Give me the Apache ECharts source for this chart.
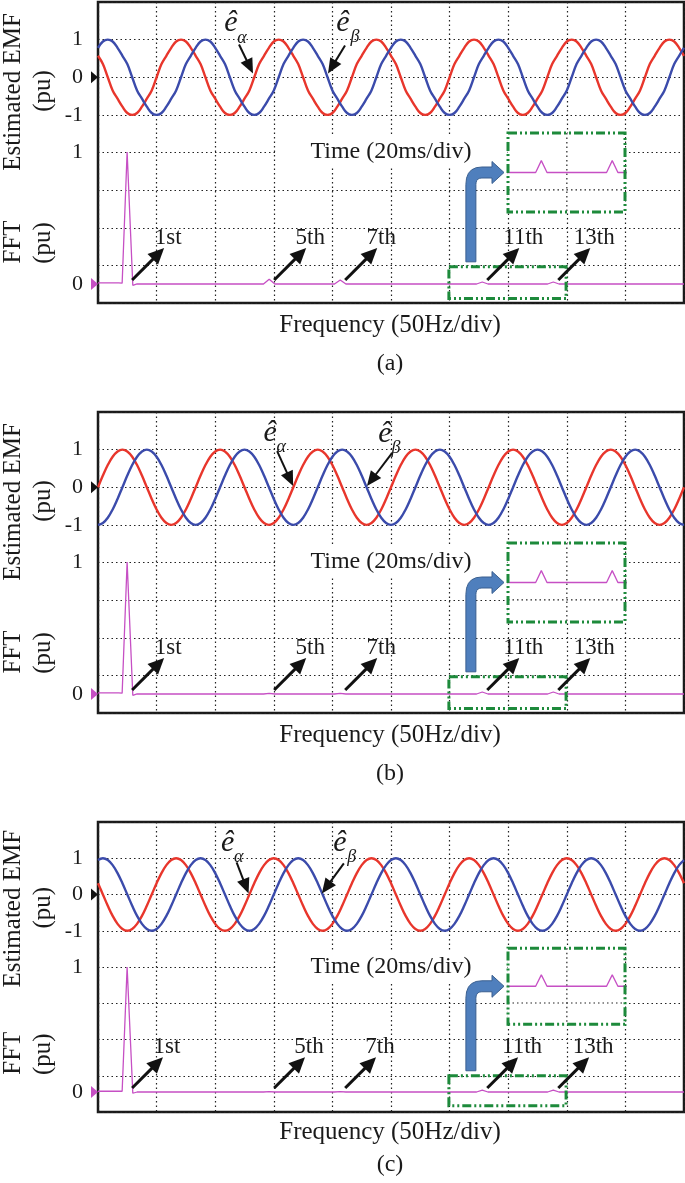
<!DOCTYPE html>
<html>
<head>
<meta charset="utf-8">
<script src="https://cdn.jsdelivr.net/npm/echarts@6/dist/echarts.min.js"></script>
<style>
html,body{margin:0;padding:0;background:#fff;}
#charts{width:685px;height:1183px;}
</style>
</head>
<body>
<div id="charts"></div>
<script>
// scope trace: 12 samples per 20ms division, 10 divisions
var SAMPLE_MS = 20 / 12;

// (a) distorted back-EMF, alpha / beta (pu)
var emfAlphaA = [
  0.57,0.35,0,-0.35,-0.57,-0.78,-0.95,-1,-0.95,-0.78,-0.57,-0.35,0,0.35,0.57,0.78,0.95,1,0.95,0.78,
  0.57,0.35,0,-0.35,-0.57,-0.78,-0.95,-1,-0.95,-0.78,-0.57,-0.35,0,0.35,0.57,0.78,0.95,1,0.95,0.78,
  0.57,0.35,0,-0.35,-0.57,-0.78,-0.95,-1,-0.95,-0.78,-0.57,-0.35,0,0.35,0.57,0.78,0.95,1,0.95,0.78,
  0.57,0.35,0,-0.35,-0.57,-0.78,-0.95,-1,-0.95,-0.78,-0.57,-0.35,0,0.35,0.57,0.78,0.95,1,0.95,0.78,
  0.57,0.35,0,-0.35,-0.57,-0.78,-0.95,-1,-0.95,-0.78,-0.57,-0.35,0,0.35,0.57,0.78,0.95,1,0.95,0.78,
  0.57,0.35,0,-0.35,-0.57,-0.78,-0.95,-1,-0.95,-0.78,-0.57,-0.35,0,0.35,0.57,0.78,0.95,1,0.95,0.78,
  0.57];
var emfBetaA = [
  0.78,0.95,1,0.95,0.78,0.57,0.35,0,-0.35,-0.57,-0.78,-0.95,-1,-0.95,-0.78,-0.57,-0.35,0,0.35,0.57,
  0.78,0.95,1,0.95,0.78,0.57,0.35,0,-0.35,-0.57,-0.78,-0.95,-1,-0.95,-0.78,-0.57,-0.35,0,0.35,0.57,
  0.78,0.95,1,0.95,0.78,0.57,0.35,0,-0.35,-0.57,-0.78,-0.95,-1,-0.95,-0.78,-0.57,-0.35,0,0.35,0.57,
  0.78,0.95,1,0.95,0.78,0.57,0.35,0,-0.35,-0.57,-0.78,-0.95,-1,-0.95,-0.78,-0.57,-0.35,0,0.35,0.57,
  0.78,0.95,1,0.95,0.78,0.57,0.35,0,-0.35,-0.57,-0.78,-0.95,-1,-0.95,-0.78,-0.57,-0.35,0,0.35,0.57,
  0.78,0.95,1,0.95,0.78,0.57,0.35,0,-0.35,-0.57,-0.78,-0.95,-1,-0.95,-0.78,-0.57,-0.35,0,0.35,0.57,
  0.78];

// (b)
var emfAlphaB = [
  0,0.31,0.59,0.81,0.95,1,0.95,0.81,0.59,0.31,0,-0.31,-0.59,-0.81,-0.95,-1,-0.95,-0.81,-0.59,-0.31,
  0,0.31,0.59,0.81,0.95,1,0.95,0.81,0.59,0.31,0,-0.31,-0.59,-0.81,-0.95,-1,-0.95,-0.81,-0.59,-0.31,
  0,0.31,0.59,0.81,0.95,1,0.95,0.81,0.59,0.31,0,-0.31,-0.59,-0.81,-0.95,-1,-0.95,-0.81,-0.59,-0.31,
  0,0.31,0.59,0.81,0.95,1,0.95,0.81,0.59,0.31,0,-0.31,-0.59,-0.81,-0.95,-1,-0.95,-0.81,-0.59,-0.31,
  0,0.31,0.59,0.81,0.95,1,0.95,0.81,0.59,0.31,0,-0.31,-0.59,-0.81,-0.95,-1,-0.95,-0.81,-0.59,-0.31,
  0,0.31,0.59,0.81,0.95,1,0.95,0.81,0.59,0.31,0,-0.31,-0.59,-0.81,-0.95,-1,-0.95,-0.81,-0.59,-0.31,
  0];
var emfBetaB = [
  -1,-0.95,-0.81,-0.59,-0.31,0,0.31,0.59,0.81,0.95,1,0.95,0.81,0.59,0.31,0,-0.31,-0.59,-0.81,-0.95,
  -1,-0.95,-0.81,-0.59,-0.31,0,0.31,0.59,0.81,0.95,1,0.95,0.81,0.59,0.31,0,-0.31,-0.59,-0.81,-0.95,
  -1,-0.95,-0.81,-0.59,-0.31,0,0.31,0.59,0.81,0.95,1,0.95,0.81,0.59,0.31,0,-0.31,-0.59,-0.81,-0.95,
  -1,-0.95,-0.81,-0.59,-0.31,0,0.31,0.59,0.81,0.95,1,0.95,0.81,0.59,0.31,0,-0.31,-0.59,-0.81,-0.95,
  -1,-0.95,-0.81,-0.59,-0.31,0,0.31,0.59,0.81,0.95,1,0.95,0.81,0.59,0.31,0,-0.31,-0.59,-0.81,-0.95,
  -1,-0.95,-0.81,-0.59,-0.31,0,0.31,0.59,0.81,0.95,1,0.95,0.81,0.59,0.31,0,-0.31,-0.59,-0.81,-0.95,
  -1];

// (c)
var emfAlphaC = [
  0.31,0,-0.31,-0.59,-0.81,-0.95,-1,-0.95,-0.81,-0.59,-0.31,0,0.31,0.59,0.81,0.95,1,0.95,0.81,0.59,
  0.31,0,-0.31,-0.59,-0.81,-0.95,-1,-0.95,-0.81,-0.59,-0.31,0,0.31,0.59,0.81,0.95,1,0.95,0.81,0.59,
  0.31,0,-0.31,-0.59,-0.81,-0.95,-1,-0.95,-0.81,-0.59,-0.31,0,0.31,0.59,0.81,0.95,1,0.95,0.81,0.59,
  0.31,0,-0.31,-0.59,-0.81,-0.95,-1,-0.95,-0.81,-0.59,-0.31,0,0.31,0.59,0.81,0.95,1,0.95,0.81,0.59,
  0.31,0,-0.31,-0.59,-0.81,-0.95,-1,-0.95,-0.81,-0.59,-0.31,0,0.31,0.59,0.81,0.95,1,0.95,0.81,0.59,
  0.31,0,-0.31,-0.59,-0.81,-0.95,-1,-0.95,-0.81,-0.59,-0.31,0,0.31,0.59,0.81,0.95,1,0.95,0.81,0.59,
  0.31];
var emfBetaC = [
  0.95,1,0.95,0.81,0.59,0.31,0,-0.31,-0.59,-0.81,-0.95,-1,-0.95,-0.81,-0.59,-0.31,0,0.31,0.59,0.81,
  0.95,1,0.95,0.81,0.59,0.31,0,-0.31,-0.59,-0.81,-0.95,-1,-0.95,-0.81,-0.59,-0.31,0,0.31,0.59,0.81,
  0.95,1,0.95,0.81,0.59,0.31,0,-0.31,-0.59,-0.81,-0.95,-1,-0.95,-0.81,-0.59,-0.31,0,0.31,0.59,0.81,
  0.95,1,0.95,0.81,0.59,0.31,0,-0.31,-0.59,-0.81,-0.95,-1,-0.95,-0.81,-0.59,-0.31,0,0.31,0.59,0.81,
  0.95,1,0.95,0.81,0.59,0.31,0,-0.31,-0.59,-0.81,-0.95,-1,-0.95,-0.81,-0.59,-0.31,0,0.31,0.59,0.81,
  0.95,1,0.95,0.81,0.59,0.31,0,-0.31,-0.59,-0.81,-0.95,-1,-0.95,-0.81,-0.59,-0.31,0,0.31,0.59,0.81,
  0.95];

// FFT spectrum (Hz, pu)
var fftHz   = [9, 38, 43, 50, 58, 64, 242, 250, 258, 342, 350, 358, 542, 550, 558, 642, 650, 658, 834];
var fftMagA = [0.008, 0.008, 0.006, 1, -0.01, 0, 0, 0.036, 0, 0, 0.03, 0, 0, 0.015, 0, 0, 0.015, 0, 0];
var fftMagB = [0.008, 0.008, 0.006, 1, -0.01, 0, 0, 0.004, 0, 0, 0.004, 0, 0, 0.015, 0, 0, 0.015, 0, 0];
var fftMagC = [0.006, 0.006, 0.006, 1, -0.01, 0, 0, 0.003, 0, 0, 0.003, 0, 0, 0.015, 0, 0, 0.015, 0, 0];

var harmonicHz = [50, 250, 350, 550, 650];
var harmonicNames = ['1st', '5th', '7th', '11th', '13th'];
var zoomHz = [503, 668];          // zoomed window of the spectrum
var zoomPu = [-0.11, 0.13];
var insetGridHz = 586;            // grid lines shown inside the inset
var insetGridPu = -0.022;
var sineTicks = [-1, 0, 1];
var fftTicks = [0, 1];

var FONT = "'Liberation Serif','Times New Roman',serif";
var RED = '#e8362c', BLUE = '#3b4bab', MAG = '#c64fc4', GREEN = '#1d8a3b';
var LEFT = 98, WIDTH = 586;

var panels = [
  {cap:'(a)', top:2, height:301, freqY:325, capY:364, fftMin:-0.144, fftMax:2.136,
   alpha:emfAlphaA, beta:emfBetaA, fft:fftMagA,
   aTip:[52.9,0.1], aTail:[-14,-29], aE:[-22,-50], aSub:[-11,-35],
   bTip:[78.5,0.1], bTail:[17,-28], bE:[15,-50], bSub:[27,-36]},
  {cap:'(b)', top:412, height:301, freqY:735, capY:774, fftMin:-0.144, fftMax:2.136,
   alpha:emfAlphaB, beta:emfBetaB, fft:fftMagB,
   aTip:[66.6,0.03], aTail:[-16,-35], aE:[-23,-53], aSub:[-12,-39],
   bTip:[91.8,0.03], bTail:[25,-33], bE:[18,-52], bSub:[29,-38]},
  {cap:'(c)', top:822, height:290, freqY:1132, capY:1165, fftMin:-0.16, fftMax:2.16,
   alpha:emfAlphaC, beta:emfBetaC, fft:fftMagC,
   aTip:[51.4,0.03], aTail:[-12,-31], aE:[-21,-50], aSub:[-10,-36],
   bTip:[76.4,0.03], bTail:[22,-30], bE:[18,-50], bSub:[30,-36]}
];

var dotted = {type:[1.5, 3], color:'#222', width:1.2};

function pairs(xs, ys){
  var out = [];
  for (var i = 0; i < ys.length; i++) out.push([xs[i], ys[i]]);
  return out;
}
var sampleTimes = [];
for (var k = 0; k < emfAlphaA.length; k++) sampleTimes.push(k * SAMPLE_MS);

var charts = echarts.init(document.getElementById('charts'));

var grids = [], xAxes = [], yAxes = [], series = [];
panels.forEach(function(p, i){
  var s = p.height / 301;
  var g = 3 * i;
  grids.push({left:LEFT, width:WIDTH, top:p.top, height:p.height, show:true,
              borderColor:'#1a1a1a', borderWidth:2.5, backgroundColor:'transparent'});
  grids.push({left:LEFT, width:WIDTH, top:p.top, height:p.height});
  grids.push({left:508, width:117, top:p.top + 131 * s, height:79 * s});

  xAxes.push({gridIndex:g, type:'value', min:0, max:200, interval:20,
              axisLine:{show:false}, axisTick:{show:false}, axisLabel:{show:false},
              splitLine:{show:true, lineStyle:dotted}});
  xAxes.push({gridIndex:g+1, type:'value', min:9, max:834, show:false});
  xAxes.push({gridIndex:g+2, type:'value', min:zoomHz[0], max:zoomHz[1], show:false});

  yAxes.push({gridIndex:g, type:'value', min:-6, max:2, interval:1,
              axisLine:{show:false}, axisTick:{show:false},
              splitLine:{show:true, lineStyle:dotted},
              axisLabel:{customValues:sineTicks, margin:15, fontSize:22, fontFamily:FONT, color:'#1a1a1a',
                         formatter:function(v){ return sineTicks.indexOf(v) >= 0 ? String(v) : ''; }}});
  yAxes.push({gridIndex:g+1, type:'value', min:p.fftMin, max:p.fftMax,
              axisLine:{show:false}, axisTick:{show:false}, splitLine:{show:false},
              axisLabel:{customValues:fftTicks, margin:15, fontSize:22, fontFamily:FONT, color:'#1a1a1a',
                         formatter:function(v){ return (v === 0 || v === 1) ? String(v) : ''; }}});
  yAxes.push({gridIndex:g+2, type:'value', min:-0.05, max:0.05, show:false});

  series.push({type:'line', xAxisIndex:g, yAxisIndex:g, data:pairs(sampleTimes, p.alpha),
               smooth:0.4, symbol:'none', lineStyle:{color:RED, width:2.4}, z:2});
  series.push({type:'line', xAxisIndex:g, yAxisIndex:g, data:pairs(sampleTimes, p.beta),
               smooth:0.4, symbol:'none', lineStyle:{color:BLUE, width:2.4}, z:2});
  series.push({type:'line', xAxisIndex:g+1, yAxisIndex:g+1, data:pairs(fftHz, p.fft),
               symbol:'none', lineStyle:{color:MAG, width:1.3}, z:2});
  series.push({type:'line', xAxisIndex:g+2, yAxisIndex:g+2, data:pairs(fftHz, p.fft),
               symbol:'none', lineStyle:{color:MAG, width:1.3}, z:6});
});

charts.setOption({
  animation:false,
  textStyle:{fontFamily:FONT},
  grid:grids, xAxis:xAxes, yAxis:yAxes, series:series
});

function txt(x, y, text, size, opts){
  opts = opts || {};
  var st = {text:text, fontSize:size, fontFamily:FONT, fontStyle:opts.italic ? 'italic' : 'normal',
            fill:'#1a1a1a', textAlign:'center', textVerticalAlign:'middle',
            align:'center', verticalAlign:'middle'};
  if (opts.bg) { st.backgroundColor = opts.bg; st.padding = opts.pad; }
  return {type:'text', x:x, y:y, rotation:opts.rot || 0, z:opts.z || 10, style:st};
}

function arrow(x0, y0, x1, y1, hl, hw, lw){
  var dx = x1 - x0, dy = y1 - y0, L = Math.sqrt(dx*dx + dy*dy);
  var ux = dx / L, uy = dy / L, nx = -uy, ny = ux;
  var bx = x1 - ux * hl, by = y1 - uy * hl;
  return [
    {type:'line', z:10, shape:{x1:x0, y1:y0, x2:bx + ux*2, y2:by + uy*2},
     style:{stroke:'#111', lineWidth:lw}},
    {type:'polygon', z:10, shape:{points:[[x1, y1], [bx + nx*hw, by + ny*hw], [bx - nx*hw, by - ny*hw]]},
     style:{fill:'#111'}}
  ];
}

// points along a quadratic corner, for the bent arrow outline
function corner(p0, c, p1){
  var pts = [];
  for (var t = 0; t <= 1.001; t += 0.2) {
    var a = (1-t)*(1-t), b = 2*(1-t)*t, d = t*t;
    pts.push([a*p0[0] + b*c[0] + d*p1[0], a*p0[1] + b*c[1] + d*p1[1]]);
  }
  return pts;
}

var graphics = [];
panels.forEach(function(p, i){
  var s = p.height / 301;
  var g = 3 * i;
  var zeroSine = charts.convertToPixel({gridIndex:g}, [0, 0]);
  var zeroFft = charts.convertToPixel({gridIndex:g+1}, [9, 0]);
  var rot = Math.PI / 2;

  // axis titles
  graphics.push(txt(13, p.top + 90 * s, 'Estimated EMF', 25, {rot:rot}));
  graphics.push(txt(43, p.top + 89 * s, '(pu)', 25, {rot:rot}));
  graphics.push(txt(13, p.top + 240 * s, 'FFT', 25, {rot:rot}));
  graphics.push(txt(43, p.top + 241 * s, '(pu)', 25, {rot:rot}));
  graphics.push(txt(391, p.top + 150 * s, 'Time (20ms/div)', 24, {bg:'#fff', pad:[3, 34], z:3}));
  graphics.push(txt(390, p.freqY, 'Frequency (50Hz/div)', 25));
  graphics.push(txt(390, p.capY, p.cap, 24));

  // channel markers
  graphics.push({type:'polygon', z:10, shape:{points:[[91, zeroSine[1]-6], [98, zeroSine[1]], [91, zeroSine[1]+6]]},
                 style:{fill:'#111'}});
  graphics.push({type:'polygon', z:10, shape:{points:[[91, zeroFft[1]-6], [98, zeroFft[1]], [91, zeroFft[1]+6]]},
                 style:{fill:MAG}});

  // inset: white ground, its own dotted grid, dash-dot frame
  var in0 = charts.convertToPixel({gridIndex:g+2}, [zoomHz[0], 0.05]);
  var in1 = charts.convertToPixel({gridIndex:g+2}, [zoomHz[1], -0.05]);
  var gv = charts.convertToPixel({gridIndex:g+2}, [insetGridHz, insetGridPu]);
  graphics.push({type:'rect', z:3, shape:{x:in0[0], y:in0[1], width:in1[0]-in0[0], height:in1[1]-in0[1]},
                 style:{fill:'#fff'}});
  graphics.push({type:'line', z:4, shape:{x1:gv[0], y1:in0[1], x2:gv[0], y2:in1[1]},
                 style:{stroke:'#222', lineWidth:1.2, lineDash:[1.5, 3]}});
  graphics.push({type:'line', z:4, shape:{x1:in0[0], y1:gv[1], x2:in1[0], y2:gv[1]},
                 style:{stroke:'#222', lineWidth:1.2, lineDash:[1.5, 3]}});
  graphics.push({type:'rect', z:8, shape:{x:in0[0], y:in0[1], width:in1[0]-in0[0], height:in1[1]-in0[1]},
                 style:{fill:'none', stroke:GREEN, lineWidth:3, lineDash:[9, 3, 2, 3, 2, 3]}});
  var zb0 = charts.convertToPixel({gridIndex:g+1}, [zoomHz[0], zoomPu[1]]);
  var zb1 = charts.convertToPixel({gridIndex:g+1}, [zoomHz[1], zoomPu[0]]);
  graphics.push({type:'rect', z:8, shape:{x:zb0[0], y:zb0[1], width:zb1[0]-zb0[0], height:zb1[1]-zb0[1]},
                 style:{fill:'none', stroke:GREEN, lineWidth:3, lineDash:[9, 3, 2, 3, 2, 3]}});

  // bent blue arrow from zoom window to inset
  var xL = zb0[0] + 17, xR = xL + 10, yB = zb0[1] - 5;
  var yc = (in0[1] + in1[1]) / 2, tipX = in0[0] - 4, hb = tipX - 12;
  var pts = [[xL, yB]];
  pts = pts.concat(corner([xL, yc + 12], [xL, yc - 5.5], [xL + 16, yc - 5.5]));
  pts.push([hb, yc - 5.5], [hb, yc - 11], [tipX, yc], [hb, yc + 11], [hb, yc + 5.5]);
  pts = pts.concat(corner([xR + 6, yc + 5.5], [xR, yc + 5.5], [xR, yc + 12]));
  pts.push([xR, yB]);
  graphics.push({type:'polygon', z:9, shape:{points:pts}, style:{fill:'#4f7fbd', stroke:'#3a5f8f', lineWidth:1}});

  // harmonic arrows
  harmonicHz.forEach(function(hz, j){
    var pt = charts.convertToPixel({gridIndex:g+1}, [hz, 0]);
    var tx = pt[0] + 5, ty = pt[1] - 4;
    var hx = tx + 32 * s, hy = ty - 32 * s;
    graphics = graphics.concat(arrow(tx, ty, hx, hy, 16, 7.5, 3));
    graphics.push(txt(hx + 4, hy - 10, harmonicNames[j], 23));
  });

  // e-hat labels
  var a = charts.convertToPixel({gridIndex:g}, p.aTip);
  graphics = graphics.concat(arrow(a[0] + p.aTail[0], a[1] + p.aTail[1], a[0], a[1], 15, 6.5, 2));
  graphics.push(txt(a[0] + p.aE[0], a[1] + p.aE[1], 'ê', 30, {italic:true}));
  graphics.push(txt(a[0] + p.aSub[0], a[1] + p.aSub[1], 'α', 18, {italic:true}));
  var b = charts.convertToPixel({gridIndex:g}, p.bTip);
  graphics = graphics.concat(arrow(b[0] + p.bTail[0], b[1] + p.bTail[1], b[0], b[1], 15, 6.5, 2));
  graphics.push(txt(b[0] + p.bE[0], b[1] + p.bE[1], 'ê', 30, {italic:true}));
  graphics.push(txt(b[0] + p.bSub[0], b[1] + p.bSub[1], 'β', 18, {italic:true}));
});

charts.setOption({graphic:graphics});
</script>
</body>
</html>
